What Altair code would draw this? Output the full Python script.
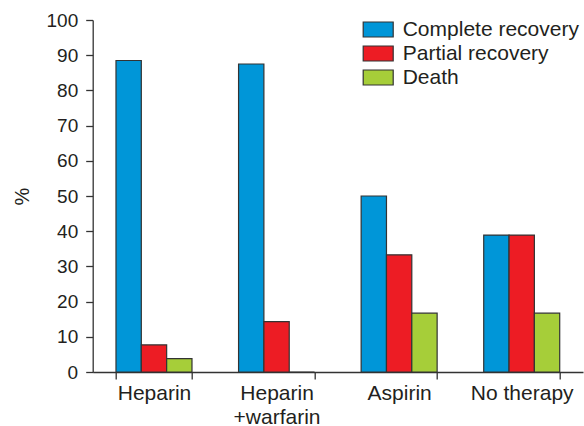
import altair as alt
import pandas as pd

categories = ["Heparin", "Heparin\n+warfarin", "Aspirin", "No therapy"]
series = ["Complete recovery", "Partial recovery", "Death"]
complete = [88.5, 87.5, 50.0, 38.9]
partial = [7.7, 14.3, 33.3, 38.9]
death = [3.8, 0.0, 16.7, 16.7]
colors = ["#0096d8", "#ed1c24", "#a6ce39"]
y_ticks = [0, 10, 20, 30, 40, 50, 60, 70, 80, 90, 100]

rows = []
for i, c in enumerate(categories):
    for s, vals in zip(series, [complete, partial, death]):
        rows.append({"therapy": c, "outcome": s, "pct": vals[i]})
df = pd.DataFrame(rows)

FONT = "Liberation Sans"
TXT = "#231f20"
AX = "#333333"

chart = (
    alt.Chart(df)
    .mark_bar(stroke=AX, strokeWidth=1.2)
    .encode(
        x=alt.X(
            "therapy:N",
            sort=categories,
            scale=alt.Scale(paddingInner=0.38, paddingOuter=0.19),
            axis=alt.Axis(
                title=None,
                labelAngle=0,
                tickBand="extent",
                labelExpr="split(datum.label, '\\n')",
                labelFontSize=21,
                labelLineHeight=24,
                labelPadding=3,
                tickSize=7,
            ),
        ),
        xOffset=alt.XOffset("outcome:N", sort=series, scale=alt.Scale(paddingInner=0, paddingOuter=0)),
        y=alt.Y(
            "pct:Q",
            scale=alt.Scale(domain=[0, 100], nice=False),
            axis=alt.Axis(
                title="%",
                values=y_ticks,
                tickSize=7,
                labelFontSize=19,
                labelPadding=8,
                titlePadding=13,
                grid=False,
            ),
        ),
        color=alt.Color(
            "outcome:N",
            sort=series,
            scale=alt.Scale(domain=series, range=colors),
            legend=alt.Legend(
                title=None,
                orient="none",
                legendX=275,
                legendY=-1,
                symbolType="M-2,-1H2V1H-2Z",
                symbolSize=225,
                symbolStrokeColor=AX,
                symbolStrokeWidth=1.2,
                symbolOpacity=1,
                labelFont=FONT,
                labelFontSize=21,
                labelColor=TXT,
                labelOffset=14,
                labelLimit=400,
                rowPadding=2,
                padding=0,
            ),
        ),
    )
    .properties(
        width=490.3,
        height=352,
        autosize=alt.AutoSizeParams(type="none"),
        padding={"left": 92.7, "top": 20, "right": 1, "bottom": 54},
    )
    .configure_view(stroke=None)
    .configure_axis(
        labelFont=FONT,
        labelColor=TXT,
        titleFont=FONT,
        titleFontSize=20,
        titleColor=TXT,
        titleFontWeight="normal",
        domainColor=AX,
        tickColor=AX,
        domainWidth=1.3,
        tickWidth=1.3,
    )
)

chart.save("out.html", embed_options={"renderer": "svg", "actions": False})
